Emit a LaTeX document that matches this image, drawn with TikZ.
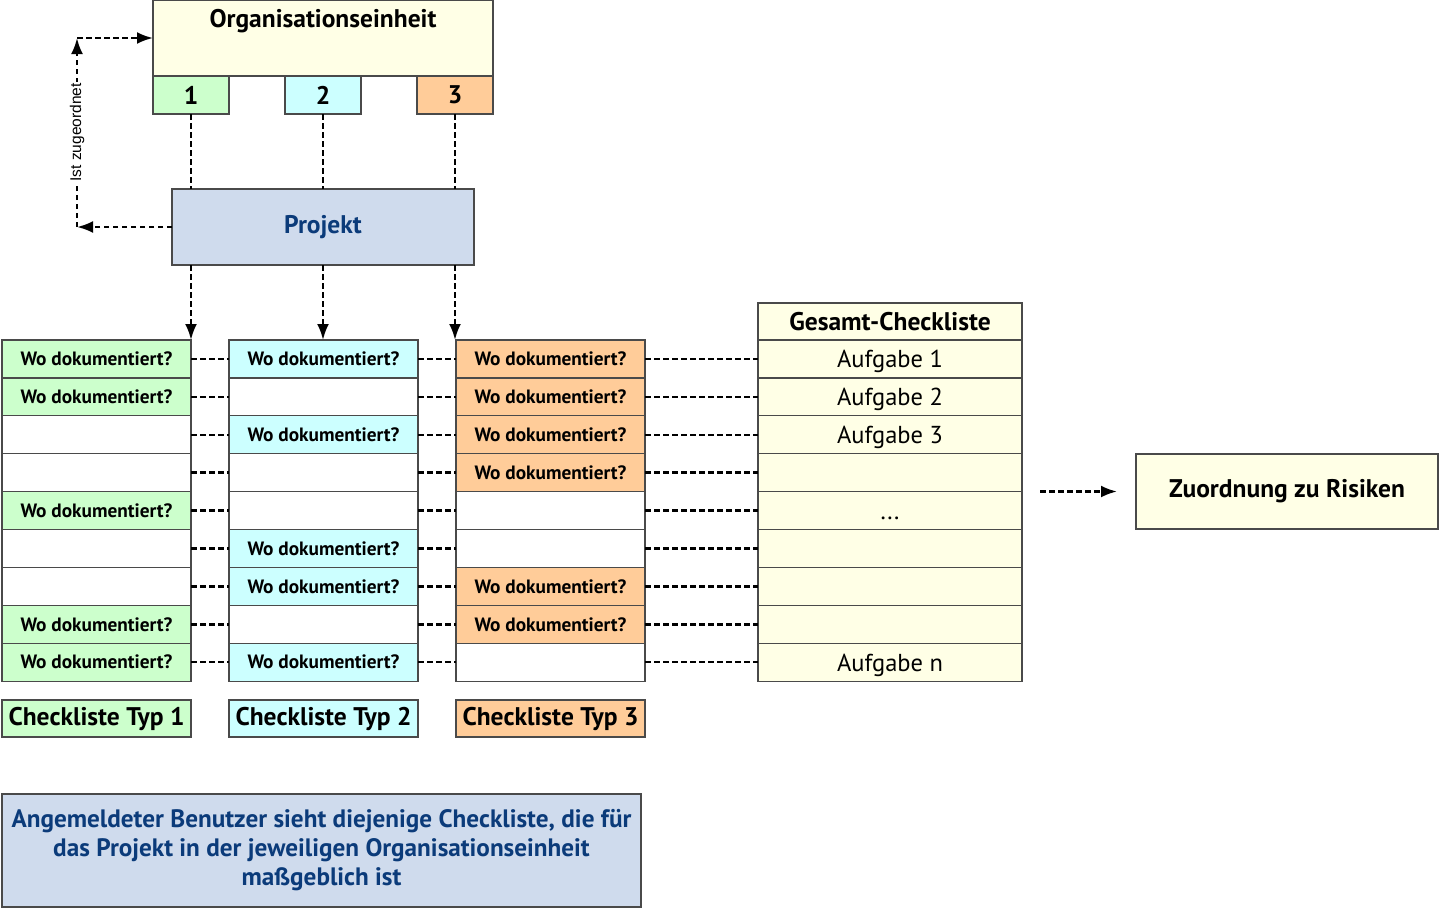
\documentclass[tikz,border=0pt]{standalone}
\usepackage{fontspec}
\setmainfont{PT Sans}
\newfontfamily\arialf{Liberation Sans}
\usetikzlibrary{arrows.meta}
\definecolor{civory}{HTML}{FFFFE6}
\definecolor{cgreen}{HTML}{CCFFCC}
\definecolor{ccyan}{HTML}{CCFFFF}
\definecolor{corange}{HTML}{FFCC99}
\definecolor{cblue}{HTML}{CFDBED}
\definecolor{ctext}{HTML}{0B3B7A}
\definecolor{cborder}{HTML}{4A4A4A}
\newcommand{\gdots}{...}
\begin{document}
\begin{tikzpicture}[x=1pt,y=-1pt,
  box/.style={draw=cborder, line width=1.2pt, inner sep=0pt, outer sep=0pt},
  cell/.style={box, minimum width=189pt, minimum height=37.9pt, font=\fontsize{19.3}{21}\selectfont\bfseries},
  gcell/.style={box, fill=civory, minimum width=264pt, minimum height=37.9pt, text height=18pt, text depth=0pt, font=\fontsize{24.5}{26}\selectfont},
  dl/.style={line width=2.5pt, dash pattern=on 5.5pt off 3.5pt},
  arr/.style={-{Latex[length=16pt,width=12pt]}},
  a0/.style={fill=white}, a1/.style={fill=cgreen},
  b0/.style={fill=white}, b1/.style={fill=ccyan},
  c0/.style={fill=white}, c1/.style={fill=corange},
  big/.style={font=\fontsize{25.5}{28}\selectfont\bfseries},
  typ/.style={box, minimum width=189pt, minimum height=37pt, font=\fontsize{25.5}{27}\selectfont\bfseries}
]
\useasboundingbox (0,0) rectangle (1439,908);

% Organisationseinheit
\node[box, fill=civory, minimum width=340pt, minimum height=76pt] (org) at (323,38) {};
\node[big, anchor=base, inner sep=0pt] (orgt) at (323,27) {Organisationseinheit};
\node[box, fill=cgreen, minimum width=76pt, minimum height=38pt, big] (n1) at (191,95) {1};
\node[box, fill=ccyan, minimum width=76pt, minimum height=38pt, big] (n2) at (323,95) {2};
\node[box, fill=corange, minimum width=76pt, minimum height=38pt, big] (n3) at (455,95) {3};

% Projekt
\node[box, fill=cblue, minimum width=302pt, minimum height=76pt, big, text=ctext] (proj) at (323,227) {Projekt};

% columns
\foreach \r/\k in {1/1,2/1,3/0,4/0,5/1,6/0,7/0,8/1,9/1}{
  \node[cell, a\k] (a\r) at (96.5,{340+37.9*(\r-1)+18.95}) {\ifnum\k=1 Wo dokumentiert?\fi};
}
\foreach \r/\k in {1/1,2/0,3/1,4/0,5/0,6/1,7/1,8/0,9/1}{
  \node[cell, b\k] (b\r) at (323.5,{340+37.9*(\r-1)+18.95}) {\ifnum\k=1 Wo dokumentiert?\fi};
}
\foreach \r/\k in {1/1,2/1,3/1,4/1,5/0,6/0,7/1,8/1,9/0}{
  \node[cell, c\k] (c\r) at (550.5,{340+37.9*(\r-1)+18.95}) {\ifnum\k=1 Wo dokumentiert?\fi};
}
% Gesamt-Checkliste
\node[box, fill=civory, minimum width=264pt, font=\fontsize{25.5}{27}\selectfont\bfseries, minimum height=37pt] (gh) at (890,321.5) {Gesamt-Checkliste};
\foreach \r/\t in {1/Aufgabe 1,2/Aufgabe 2,3/Aufgabe 3,4/,5/\gdots,6/,7/,8/,9/Aufgabe n}{
  \node[gcell] (g\r) at (890,{340+37.9*(\r-1)+18.95}) {\t};
}

% row connectors
\foreach \r in {1,...,9}{
  \draw[dl] (a\r.east) -- (b\r.west);
  \draw[dl] (b\r.east) -- (c\r.west);
  \draw[dl] (c\r.east) -- (g\r.west);
}

% Org -> Projekt
\draw[dl] (n1.south) -- (proj.north -| n1.south);
\draw[dl] (n2.south) -- (proj.north -| n2.south);
\draw[dl] (n3.south) -- (proj.north -| n3.south);
% Projekt -> checklists
\draw[dl,arr] (proj.south -| n1.south) -- (a1.north -| n1.south);
\draw[dl,arr] (proj.south -| n2.south) -- (b1.north -| n2.south);
\draw[dl,arr] (proj.south -| n3.south) -- (c1.north -| n3.south);

% Ist zugeordnet loop
\coordinate (k1) at (77,227);
\coordinate (k2) at (77,38);
\draw[dl,arr] (proj.west) -- (k1);
\draw[dl,arr] (k1) -- (k2) node[midway, fill=white, rotate=90, inner sep=1.5pt, font=\arialf\fontsize{15.5}{16}\selectfont] (lab) {Ist zugeordnet};
\draw[dl,arr] (k2) -- (org.west |- k2);

% Zuordnung zu Risiken
\node[box, fill=civory, minimum width=302pt, minimum height=75pt, big] (zuo) at (1287,491.5) {Zuordnung zu Risiken};
\draw[dl,arr,shorten <=18pt,shorten >=19pt] (g4.south east |- zuo.west) -- (zuo.west);

% Checkliste Typ labels
\node[typ, fill=cgreen] (t1) at (96.5,718.5) {Checkliste Typ 1};
\node[typ, fill=ccyan] (t2) at (323.5,718.5) {Checkliste Typ 2};
\node[typ, fill=corange] (t3) at (550.5,718.5) {Checkliste Typ 3};

% bottom note
\node[box, fill=cblue, minimum width=639pt, minimum height=113pt, text=ctext, align=center,
  font=\fontsize{25.2}{29}\selectfont\bfseries] (note) at (321.5,850.5)
  {Angemeldeter Benutzer sieht diejenige Checkliste, die für\\das Projekt in der jeweiligen Organisationseinheit\\maßgeblich ist};
\end{tikzpicture}
\end{document}
